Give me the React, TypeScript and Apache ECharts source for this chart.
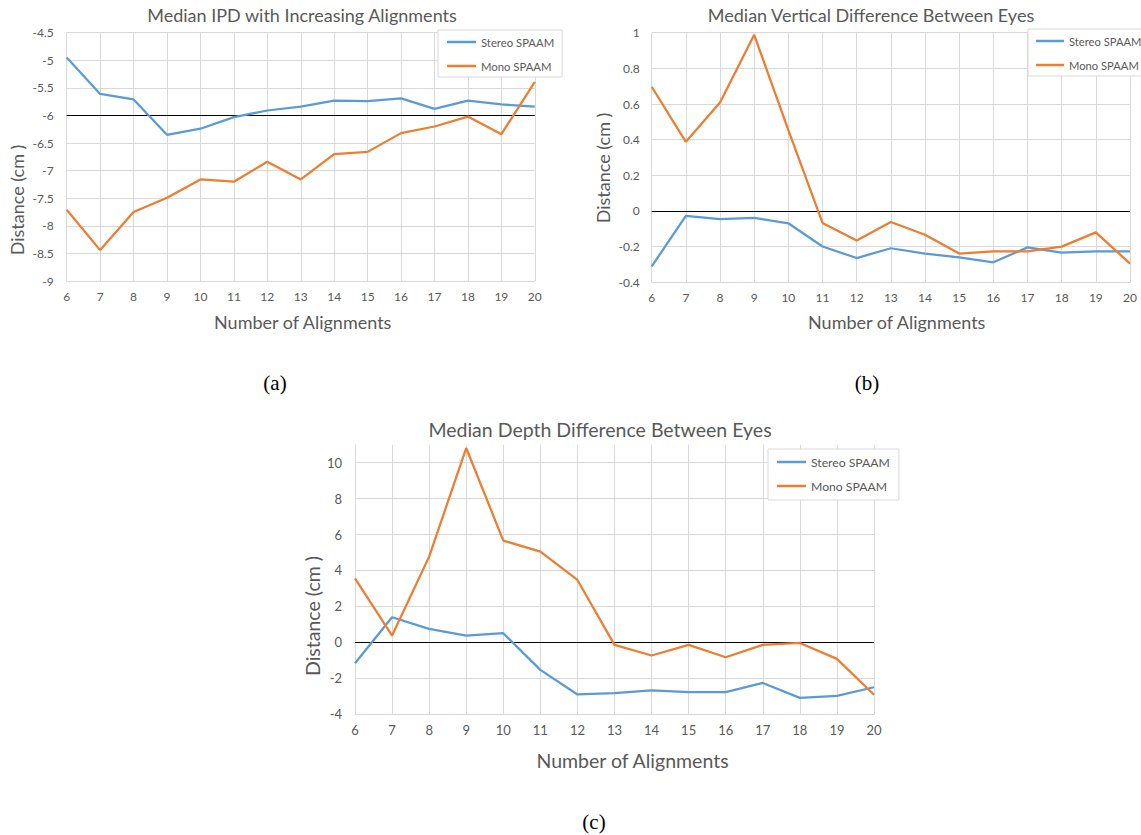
import React, { useEffect, useRef } from "react";
import * as echarts from "echarts";

const categories = ["6", "7", "8", "9", "10", "11", "12", "13", "14", "15", "16", "17", "18", "19", "20"];
const seriesNames = ["Stereo SPAAM", "Mono SPAAM"];

const ipdStereo = [-4.95, -5.61, -5.71, -6.35, -6.24, -6.03, -5.91, -5.84, -5.73, -5.74, -5.69, -5.88, -5.73, -5.8, -5.84];
const ipdMono = [-7.71, -8.44, -7.75, -7.49, -7.16, -7.2, -6.84, -7.16, -6.7, -6.66, -6.32, -6.2, -6.02, -6.34, -5.39];

const vertStereo = [-0.311, -0.028, -0.045, -0.039, -0.069, -0.199, -0.264, -0.209, -0.239, -0.26, -0.288, -0.204, -0.234, -0.226, -0.226];
const vertMono = [0.697, 0.388, 0.609, 0.988, 0.454, -0.067, -0.165, -0.062, -0.133, -0.239, -0.226, -0.226, -0.2, -0.12, -0.295];

const depthStereo = [-1.17, 1.39, 0.74, 0.37, 0.5, -1.54, -2.91, -2.84, -2.69, -2.78, -2.78, -2.27, -3.1, -2.99, -2.51];
const depthMono = [3.56, 0.37, 4.77, 10.82, 5.66, 5.05, 3.47, -0.15, -0.74, -0.15, -0.84, -0.15, -0.04, -0.93, -2.93];

const chartTitles = [
  "Median IPD with Increasing Alignments",
  "Median Vertical Difference Between Eyes",
  "Median Depth Difference Between Eyes",
];
const refValues = [-6, 0, 0];
const yMins = [-9, -0.4, -4];
const yMaxs = [-4.5, 1, 11];
const yIntervals = [0.5, 0.2, 2];
const panelLabels = ["(a)", "(b)", "(c)"];

const FONT = "Lato, 'Open Sans', sans-serif";
const TXT = "#595959";
const GRIDC = "#d9d9d9";
const BLUE = "#5B9BD5";
const ORANGE = "#ED7D31";

export default function App() {
  const ref = useRef<HTMLDivElement>(null);
  useEffect(() => {
    if (!ref.current) return;
    const chart = echarts.init(ref.current, undefined, { renderer: "svg" });

    const grids = [
      { left: 66.7, top: 32.7, width: 468.1, height: 248.3 },
      { left: 651.7, top: 32.7, width: 478.3, height: 249.6 },
      { left: 355, top: 444.8, width: 519, height: 269.2 },
    ];
    const data = [
      [ipdStereo, ipdMono],
      [vertStereo, vertMono],
      [depthStereo, depthMono],
    ];
    const labelMargins = [13, 12, 13];
    const tickSize = [12, 12, 13];
    const bigSize = [18, 18, 19.5];

    const xAxis = grids.map((_, i) => ({
      type: "category",
      gridIndex: i,
      data: categories,
      boundaryGap: false,
      axisLine: { show: true, onZero: false, lineStyle: { color: GRIDC, width: 1 } },
      axisTick: { show: false },
      axisLabel: { color: TXT, fontSize: tickSize[i], fontFamily: FONT, margin: 9, interval: 0 },
      splitLine: { show: true, interval: 0, lineStyle: { color: GRIDC, width: 1 } },
    }));
    const yAxis = grids.map((_, i) => ({
      type: "value",
      gridIndex: i,
      min: yMins[i],
      max: yMaxs[i],
      interval: yIntervals[i],
      axisLine: { show: false },
      axisTick: { show: false },
      axisLabel: {
        color: TXT,
        fontSize: tickSize[i],
        fontFamily: FONT,
        margin: labelMargins[i],
        formatter: (v: number) => (i === 2 && v > 10 ? "" : String(Math.round(v * 100) / 100)),
      },
      splitLine: { show: true, showMaxLine: i !== 2, lineStyle: { color: GRIDC, width: 1 } },
    }));

    const series: any[] = [];
    data.forEach((pair, i) => {
      pair.forEach((vals, j) => {
        series.push({
          name: seriesNames[j],
          type: "line",
          xAxisIndex: i,
          yAxisIndex: i,
          data: vals,
          symbol: "none",
          showSymbol: false,
          smooth: false,
          lineStyle: { color: j === 0 ? BLUE : ORANGE, width: 2.25 },
          itemStyle: { color: j === 0 ? BLUE : ORANGE },
          z: 3,
          markLine:
            j === 0
              ? {
                  silent: true,
                  symbol: ["none", "none"],
                  label: { show: false },
                  lineStyle: { color: "#000", width: 1, type: "solid" },
                  data: [{ yAxis: refValues[i] }],
                  z: 2,
                }
              : undefined,
        });
      });
    });

    const legendCfg = [
      { left: 438, top: 30, padding: [5, 8, 4, 9], itemWidth: 29, fontSize: 11.3 },
      { left: 1028, top: 29, padding: [5, 8, 4, 8], itemWidth: 28, fontSize: 11.2 },
      { left: 768, top: 449, padding: [6, 9, 7, 9], itemWidth: 29, fontSize: 12.2 },
    ];
    const legend = legendCfg.map((c) => ({
      data: seriesNames,
      orient: "vertical",
      left: c.left,
      top: c.top,
      padding: c.padding,
      icon: "rect",
      itemWidth: c.itemWidth,
      itemHeight: 2.5,
      itemGap: 10,
      borderColor: GRIDC,
      borderWidth: 1,
      backgroundColor: "#fff",
      selectedMode: false,
      textStyle: { color: TXT, fontSize: c.fontSize, fontFamily: FONT, lineHeight: 14 },
    }));

    const titlePos = [
      [302, 15],
      [871, 15],
      [600, 429],
    ];
    const xTitlePos = [
      [302.7, 322],
      [896.7, 322],
      [632.5, 760],
    ];
    const yTitlePos = [
      [17, 200],
      [602.5, 168],
      [312.5, 616],
    ];
    const panelPos = [
      [275, 383],
      [867, 383],
      [594, 822],
    ];

    const graphic: any[] = [];
    for (let i = 0; i < 3; i++) {
      graphic.push({
        type: "text",
        x: titlePos[i][0],
        y: titlePos[i][1],
        style: { text: chartTitles[i], fill: TXT, font: `${bigSize[i]}px ${FONT}`, textAlign: "center", textVerticalAlign: "middle" },
      });
      graphic.push({
        type: "text",
        x: xTitlePos[i][0],
        y: xTitlePos[i][1],
        style: { text: "Number of Alignments", fill: TXT, font: `${bigSize[i]}px ${FONT}`, textAlign: "center", textVerticalAlign: "middle" },
      });
      graphic.push({
        type: "text",
        x: yTitlePos[i][0],
        y: yTitlePos[i][1],
        rotation: Math.PI / 2,
        style: { text: "Distance (cm )", fill: TXT, font: `${bigSize[i]}px ${FONT}`, textAlign: "center", textVerticalAlign: "middle" },
      });
      graphic.push({
        type: "text",
        x: panelPos[i][0],
        y: panelPos[i][1],
        style: { text: panelLabels[i], fill: "#000", font: "21px 'Liberation Serif', 'DejaVu Serif', serif", textAlign: "center", textVerticalAlign: "middle" },
      });
    }

    chart.setOption({
      animation: false,
      backgroundColor: "#fff",
      grid: grids,
      xAxis,
      yAxis,
      series,
      legend,
      graphic,
    } as any);

    return () => chart.dispose();
  }, []);

  return <div ref={ref} style={{ position: "absolute", left: 0, top: 0, width: 1141, height: 835 }} />;
}
